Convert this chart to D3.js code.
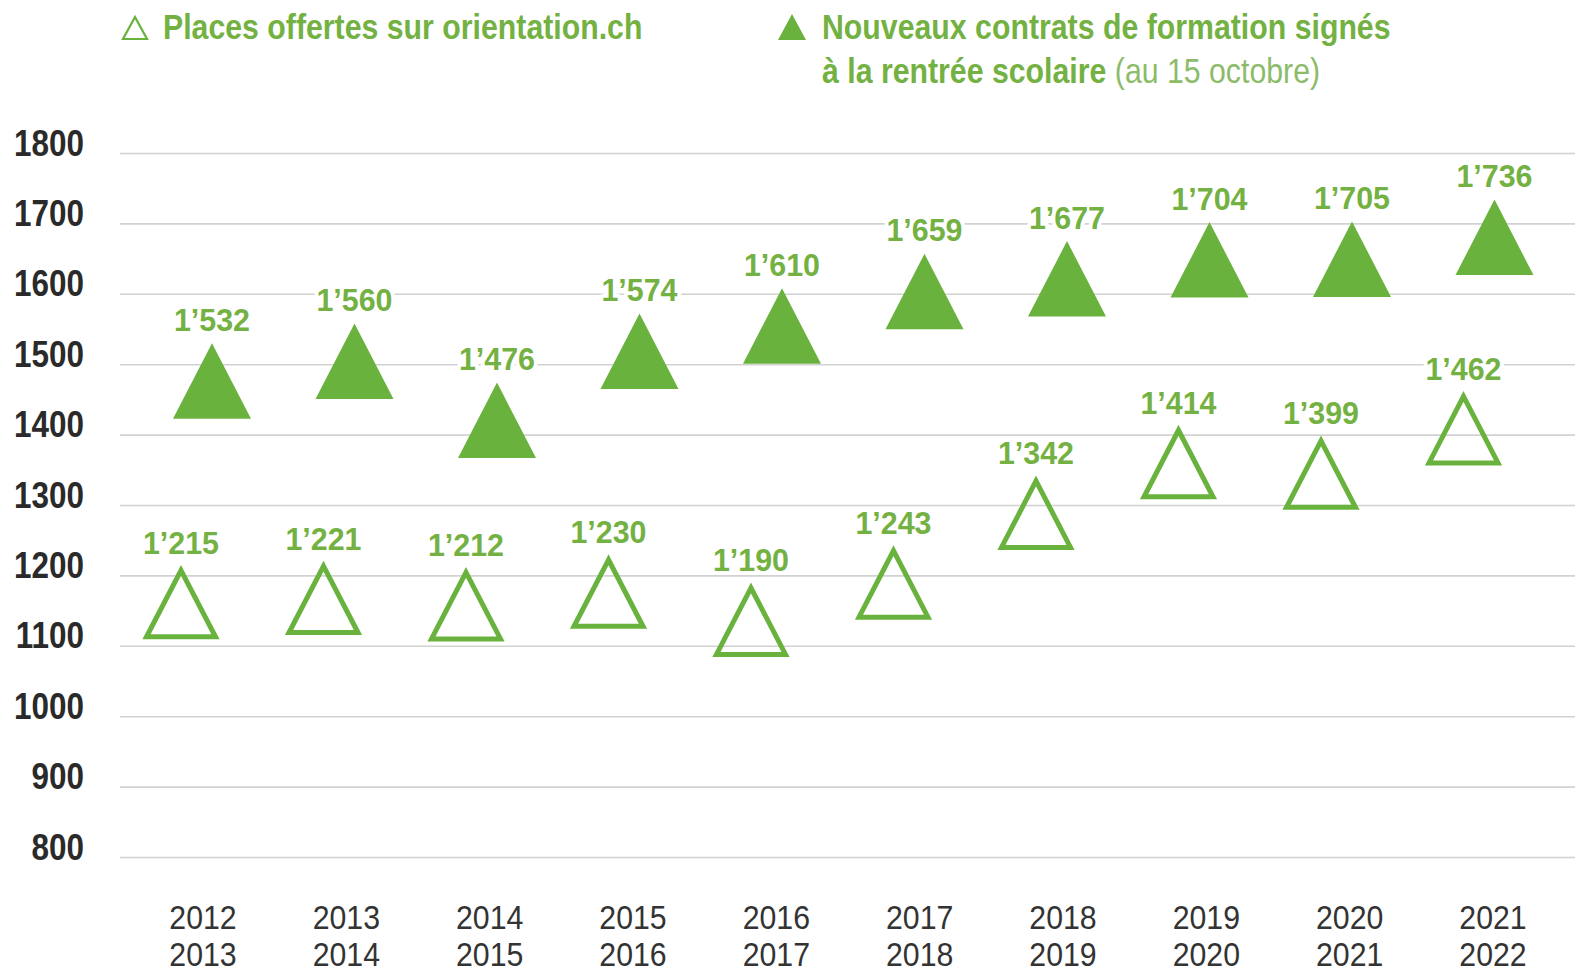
<!DOCTYPE html>
<html>
<head>
<meta charset="utf-8">
<script src="https://cdn.jsdelivr.net/npm/d3@7"></script>
<style>
body { margin: 0; background: #fff; }
svg { display: block; font-family: "Liberation Sans", Arial, sans-serif; }
</style>
</head>
<body>
<div id="canvas"></div>
<script>
// ----------------------------------------------------------
// DATA -----------------------------------------------------
// ----------------------------------------------------------
var seasons = ["2012-2013", "2013-2014", "2014-2015", "2015-2016", "2016-2017",
  "2017-2018", "2018-2019", "2019-2020", "2020-2021", "2021-2022"];
var places_offertes = [1215, 1221, 1212, 1230, 1190, 1243, 1342, 1414, 1399, 1462];
var nouveaux_contrats = [1532, 1560, 1476, 1574, 1610, 1659, 1677, 1704, 1705, 1736];
var y_ticks = [800, 900, 1000, 1100, 1200, 1300, 1400, 1500, 1600, 1700, 1800];

var legend_open = "Places offertes sur orientation.ch";
var legend_filled_1 = "Nouveaux contrats de formation signés";
var legend_filled_2 = "à la rentrée scolaire ";
var legend_filled_3 = "(au 15 octobre)";

// colours
var color_green = "#6ab23e";
var color_label = "#74b143";
var color_note = "#8cbc6a";
var color_grid = "#d2d2d2";
var color_axis_text = "#2a2a2a";
var color_year_text = "#333";

// ----------------------------------------------------------
// STRUCTURE ------------------------------------------------
// ----------------------------------------------------------
var W = 1575, H = 972;
var svg = d3.select("#canvas").append("svg")
  .attr("width", W)
  .attr("height", H);

var grid_group = svg.append("g").attr("class", "grid_group");
var gfx_group = svg.append("g").attr("class", "gfx_group");
var label_group = svg.append("g").attr("class", "label_group");
var legend_group = svg.append("g").attr("class", "legend_group");

// ----------------------------------------------------------
// SCALES ---------------------------------------------------
// ----------------------------------------------------------
var yScale = d3.scaleLinear().domain([800, 1800]).range([857, 153]);
// triangle pairs
var xScale = d3.scalePoint().domain(seasons).range([196.5, 1479]);
// season labels
var xScale_axis = d3.scalePoint().domain(seasons).range([203, 1493]);

var offset_open = -15.5, offset_filled = 15.5;

// squeeze text horizontally (condensed look)
function squeeze(sel, sx, fx, fy) {
  sel.attr("x", 0).attr("y", 0)
    .attr("transform", function(d, i) {
      return "translate(" + fx(d, i) + "," + fy(d, i) + ") scale(" + sx + ",1)";
    });
}

// ----------------------------------------------------------
// GRID / AXES ----------------------------------------------
// ----------------------------------------------------------
var yAxis = d3.axisLeft(yScale)
  .tickValues(y_ticks)
  .tickSize(-(W - 120))
  .tickFormat(d3.format("d"));

grid_group.append("g")
  .attr("transform", "translate(120,0)")
  .call(customYAxis);

function customYAxis(g) {
  g.call(yAxis);
  g.select(".domain").remove();
  g.selectAll(".tick line").attr("stroke", color_grid).attr("stroke-width", 1.6);
  g.selectAll(".tick text")
    .attr("x", 0)
    .attr("y", 0)
    .attr("dy", 0)
    .attr("transform", "translate(-36,2) scale(0.85,1)")
    .attr("text-anchor", "end")
    .style("font-family", "\"Liberation Sans\", Arial, sans-serif")
    .style("font-size", "37px")
    .style("font-weight", "bold")
    .style("fill", color_axis_text);
}

// season labels (two lines)
var year_labels = grid_group.selectAll(".year_label")
  .data(seasons)
  .enter().append("text")
  .attr("class", "year_label")
  .attr("text-anchor", "middle")
  .style("font-size", "34px")
  .style("fill", color_year_text);
squeeze(year_labels, 0.89, function(d) { return xScale_axis(d); }, function() { return 929; });
year_labels.append("tspan").attr("x", 0).text(function(d) { return d.split("-")[0]; });
year_labels.append("tspan").attr("x", 0).attr("dy", 37).text(function(d) { return d.split("-")[1]; });

// ----------------------------------------------------------
// TRIANGLES ------------------------------------------------
// ----------------------------------------------------------
var tri = d3.line();
var path_filled = tri([[0, 1.5], [-39, 77], [39, 77]]) + "Z";
var path_open = tri([[0, 5.5], [-34.5, 72], [34.5, 72]]) + "Z";

gfx_group.selectAll(".tri_open")
  .data(places_offertes)
  .enter().append("path")
  .attr("class", "tri_open")
  .attr("d", path_open)
  .attr("transform", function(d, i) {
    return "translate(" + (xScale(seasons[i]) + offset_open) + "," + yScale(d) + ")";
  })
  .style("fill", "none")
  .style("stroke", color_green)
  .style("stroke-width", 5)
  .style("stroke-linejoin", "miter");

gfx_group.selectAll(".tri_filled")
  .data(nouveaux_contrats)
  .enter().append("path")
  .attr("class", "tri_filled")
  .attr("d", path_filled)
  .attr("transform", function(d, i) {
    return "translate(" + (xScale(seasons[i]) + offset_filled) + "," + yScale(d) + ")";
  })
  .style("fill", color_green);

// value labels
var fmt = function(v) { return d3.format(",")(v).replace(",", "\u2019"); };

function addLabels(cls, values, offset) {
  var t = label_group.selectAll("." + cls)
    .data(values)
    .enter().append("text")
    .attr("class", cls)
    .attr("text-anchor", "middle")
    .style("font-size", "32px")
    .style("font-weight", "bold")
    .style("fill", color_label)
    .style("stroke", "#fff")
    .style("stroke-width", 8)
    .style("paint-order", "stroke")
    .style("stroke-linejoin", "round")
    .text(fmt);
  squeeze(t, 0.95,
    function(d, i) { return xScale(seasons[i]) + offset; },
    function(d) { return yScale(d) - 11; });
}
addLabels("label_open", places_offertes, offset_open);
addLabels("label_filled", nouveaux_contrats, offset_filled);

// ----------------------------------------------------------
// LEGEND ---------------------------------------------------
// ----------------------------------------------------------
legend_group.append("path")
  .attr("d", tri([[0, 0], [-12, 22], [12, 22]]) + "Z")
  .attr("transform", "translate(135,17)")
  .style("fill", "none")
  .style("stroke", color_green)
  .style("stroke-width", 2.2);

legend_group.append("path")
  .attr("d", tri([[0, 0], [-14, 26], [14, 26]]) + "Z")
  .attr("transform", "translate(792,14)")
  .style("fill", color_green);

var leg1 = legend_group.append("text")
  .datum(0)
  .style("font-size", "35px")
  .style("font-weight", "bold")
  .style("fill", color_label)
  .text(legend_open);
squeeze(leg1, 0.865, function() { return 163; }, function() { return 39; });

var leg2 = legend_group.append("text")
  .datum(0)
  .style("font-size", "35px")
  .style("font-weight", "bold")
  .style("fill", color_label)
  .text(legend_filled_1);
squeeze(leg2, 0.865, function() { return 822; }, function() { return 39; });

var leg3 = legend_group.append("text")
  .datum(0)
  .style("font-size", "35px")
  .style("fill", color_label);
squeeze(leg3, 0.865, function() { return 822; }, function() { return 83; });
leg3.append("tspan").style("font-weight", "bold").text(legend_filled_2);
leg3.append("tspan").style("font-weight", "normal").style("fill", color_note).text(legend_filled_3);
</script>
</body>
</html>
